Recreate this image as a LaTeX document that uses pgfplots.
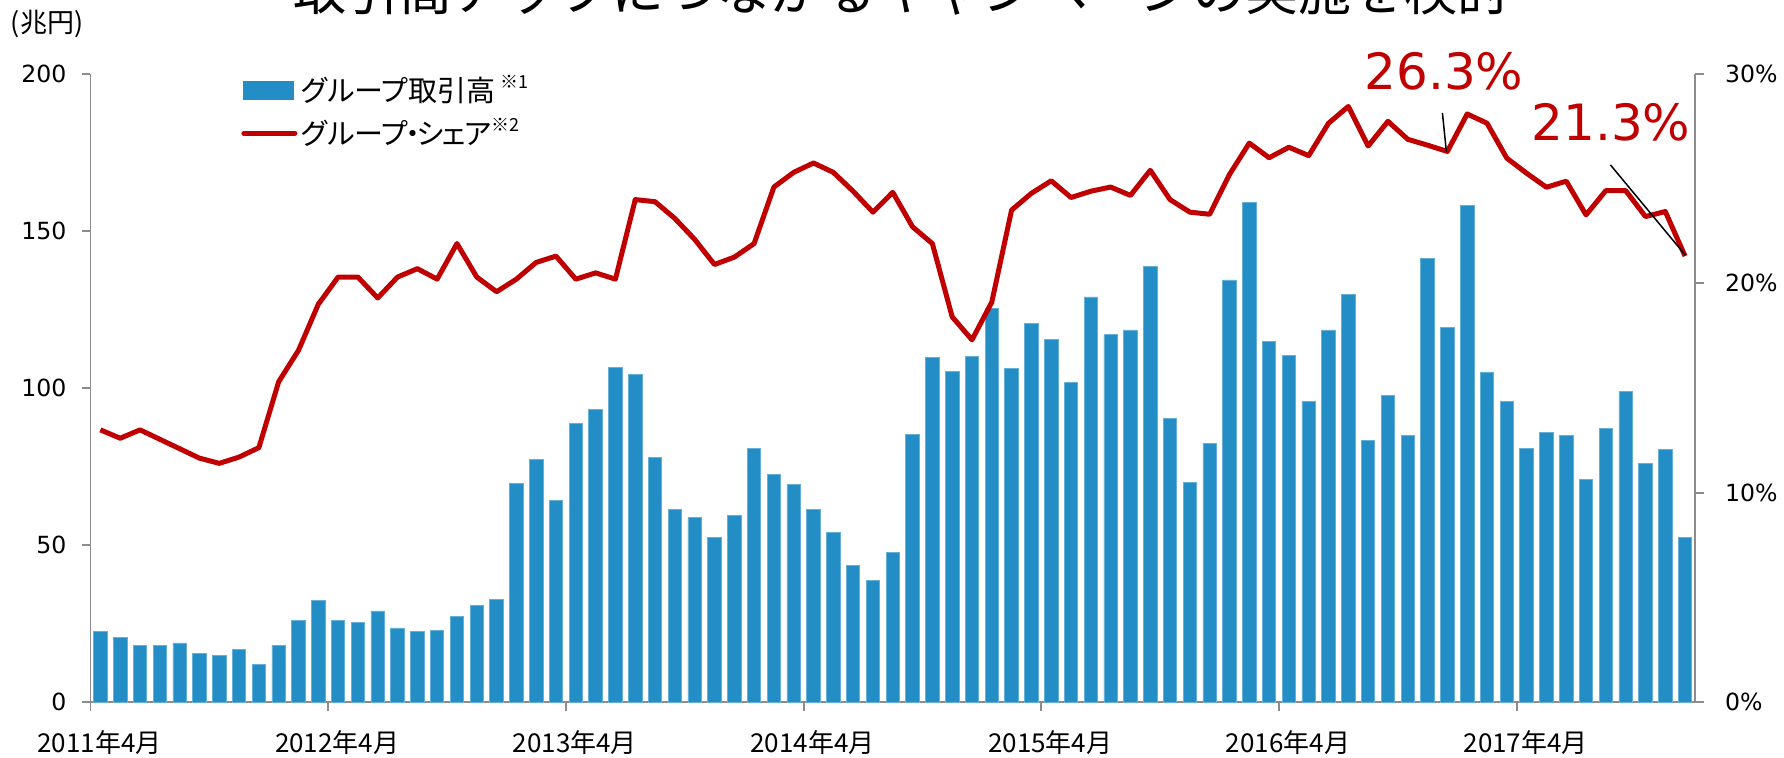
\documentclass[border=0pt]{standalone}
\usepackage{fontspec}
\usepackage{pgfplots}
\pgfplotsset{compat=1.18}
\setmainfont{DejaVu Sans}
\newfontfamily\jp{Noto Sans CJK JP}
\newfontfamily\jpp[RawFeature=+palt]{Noto Sans CJK JP}
\definecolor{barblue}{RGB}{35,142,197}
\definecolor{linered}{RGB}{192,0,0}
\definecolor{axisgray}{RGB}{140,140,140}
\newcommand\tickfont{\fontsize{11.8pt}{14pt}\selectfont}
\newcommand\xfont{\jp\fontsize{13pt}{15pt}\selectfont}
\newcommand\legfont{\jpp\fontsize{14.5pt}{16pt}\selectfont}
\newcommand\supfont{\fontsize{9pt}{10pt}\selectfont}
\begin{document}
\begin{tikzpicture}
\begin{axis}[
  at={(45.25pt,27.5pt)}, anchor=south west,
  scale only axis, width=802.25pt, height=314pt,
  xmin=-0.5, xmax=80.5, ymin=0, ymax=200,
  axis y line*=left, axis x line*=bottom,
  axis line style={draw=axisgray, line width=0.9pt},
  tick align=outside, major tick length=4.5pt,
  tick style={draw=axisgray, line width=0.9pt},
  ytick={0,50,100,150,200},
  yticklabel style={font=\tickfont, xshift=-4pt},
  xtick={-0.5,11.5,23.5,35.5,47.5,59.5,71.5},
  xticklabels={2011年4月,2012年4月,2013年4月,2014年4月,2015年4月,2016年4月,2017年4月},
  xticklabel style={font=\xfont, xshift=4.5pt, yshift=-6pt},
  /pgf/number format/assume math mode=true,
  ybar, bar width=0.68,
  clip=false,
]
\addplot[fill=barblue, draw=barblue!70!white, line width=0.4pt] coordinates {
(0,22.5)(1,20.7)(2,18.1)(3,18.1)(4,18.8)(5,15.6)(6,14.9)(7,16.7)(8,12.0)(9,18.1)
(10,26.1)(11,32.2)(12,26.1)(13,25.4)(14,29.0)(15,23.6)(16,22.5)(17,22.8)(18,27.2)(19,30.8)
(20,32.6)(21,69.6)(22,77.2)(23,64.1)(24,88.8)(25,93.1)(26,106.5)(27,104.3)(28,77.9)(29,61.2)
(30,58.7)(31,52.5)(32,59.4)(33,80.8)(34,72.5)(35,69.2)(36,61.2)(37,54.0)(38,43.5)(39,38.8)
(40,47.5)(41,85.1)(42,109.8)(43,105.4)(44,110.1)(45,125.4)(46,106.2)(47,120.7)(48,115.6)(49,101.8)
(50,129.0)(51,117.0)(52,118.5)(53,138.8)(54,90.2)(55,69.9)(56,82.2)(57,134.4)(58,159.1)(59,114.9)
(60,110.5)(61,95.7)(62,118.5)(63,129.7)(64,83.3)(65,97.5)(66,84.8)(67,141.3)(68,119.2)(69,158.0)
(70,105.1)(71,95.7)(72,80.8)(73,85.9)(74,84.8)(75,71.0)(76,87.0)(77,98.9)(78,76.1)(79,80.4)
(80,52.5)};
\end{axis}
\begin{axis}[
  at={(45.25pt,27.5pt)}, anchor=south west,
  scale only axis, width=802.25pt, height=314pt,
  xmin=-0.5, xmax=80.5, ymin=0, ymax=30,
  axis y line*=right, axis x line=none,
  axis line style={draw=axisgray, line width=0.9pt},
  tick align=outside, major tick length=4.5pt,
  tick style={draw=axisgray, line width=0.9pt},
  ytick={0,10,20,30},
  yticklabels={0\%,10\%,20\%,30\%},
  yticklabel style={font=\tickfont, xshift=7pt},
  clip=false,
  legend style={at={(axis description cs:0.0938,1.005)}, anchor=north west,
    draw=none, fill=none, inner sep=0pt, font=\legfont,
    row sep=3pt, cells={anchor=west},
    /tikz/every even column/.append style={column sep=2pt}},
]
\addlegendimage{legend image code/.code={\fill[barblue] (0pt,-4.5pt) rectangle (25pt,4.5pt);}}
\addlegendentry{グループ取引高\hspace{2.5pt}\raisebox{6.5pt}{\supfont ※1}}
\addplot[linered, line width=2.5pt, line join=round,
  legend image code/.code={\draw[linered, line width=2.5pt, line cap=round] (0pt,0pt) -- (25.5pt,0pt);}] coordinates {
(0,13.0)(1,12.6)(2,13.0)(3,12.55)(4,12.1)(5,11.65)(6,11.4)(7,11.7)(8,12.15)(9,15.3)
(10,16.8)(11,19.0)(12,20.3)(13,20.3)(14,19.3)(15,20.3)(16,20.7)(17,20.2)(18,21.9)(19,20.3)
(20,19.6)(21,20.2)(22,21.0)(23,21.3)(24,20.2)(25,20.5)(26,20.2)(27,24.0)(28,23.9)(29,23.1)
(30,22.1)(31,20.9)(32,21.25)(33,21.9)(34,24.6)(35,25.3)(36,25.75)(37,25.3)(38,24.4)(39,23.4)
(40,24.35)(41,22.7)(42,21.9)(43,18.4)(44,17.3)(45,19.1)(46,23.5)(47,24.3)(48,24.9)(49,24.1)
(50,24.4)(51,24.6)(52,24.2)(53,25.4)(54,24.0)(55,23.4)(56,23.3)(57,25.2)(58,26.7)(59,26.0)
(60,26.5)(61,26.1)(62,27.65)(63,28.45)(64,26.56)(65,27.74)(66,26.88)(67,26.6)(68,26.3)(69,28.09)
(70,27.65)(71,25.98)(72,25.26)(73,24.59)(74,24.88)(75,23.27)(76,24.43)(77,24.43)(78,23.19)(79,23.43)
(80,21.3)};
\addlegendentry{グループ\kern-0.1em・\kern-0.1em シ\kern-0.06em ェ\kern-0.06em ア\raisebox{6.5pt}{\supfont ※2}}
\draw[black, line width=0.75pt] (axis cs:67.75,28.14) -- (axis cs:67.95,26.28);
\draw[black, line width=0.75pt] (axis cs:76.23,25.66) -- (axis cs:80.0,21.36);
\end{axis}
\node[anchor=base, text=linered, font=\fontsize{25pt}{30pt}\selectfont, inner sep=0pt] at (722pt,334pt) {26.3\%};
\node[anchor=base, text=linered, font=\fontsize{25pt}{30pt}\selectfont, inner sep=0pt] at (805.5pt,308.5pt) {21.3\%};
\node[anchor=center, font=\jp\fontsize{13.5pt}{15pt}\selectfont, inner sep=0pt] at (23.5pt,366.5pt) {(兆円)};
\node[anchor=base, font=\jp\fontsize{26.5pt}{30pt}\selectfont, inner sep=0pt] at (451pt,373.4pt) {取引高アップにつながるキャンペーンの実施を検討};
\pgfresetboundingbox
\useasboundingbox (0pt,0pt) rectangle (892pt,378.5pt);
\end{tikzpicture}
\end{document}
